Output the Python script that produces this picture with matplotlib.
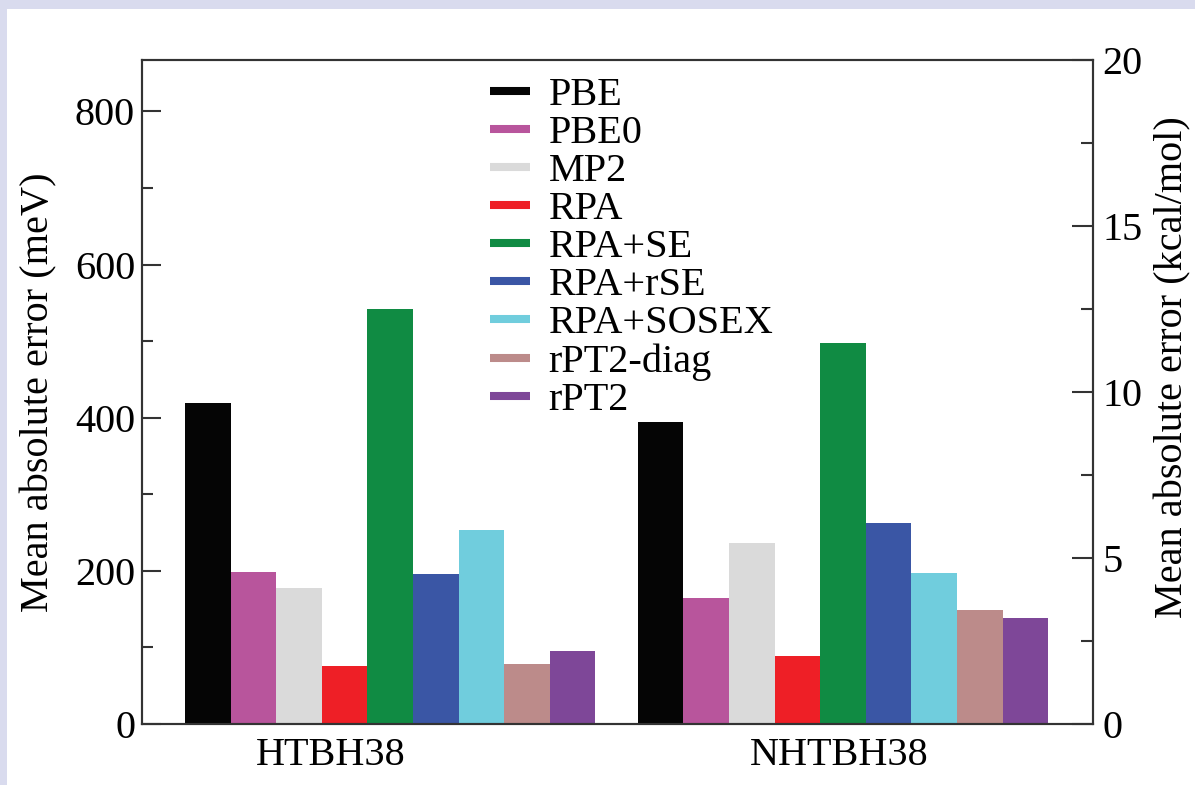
"""Mean absolute errors of barrier heights (HTBH38 / NHTBH38) for several methods."""
import matplotlib
matplotlib.use("Agg")
import matplotlib.pyplot as plt
from matplotlib.lines import Line2D
from matplotlib.patches import Rectangle
from matplotlib.ticker import MultipleLocator
import numpy as np

plt.rcParams["font.family"] = ["Liberation Serif", "DejaVu Serif"]
plt.rcParams["font.size"] = 29

MEV_PER_KCAL = 43.364

methods = ["PBE", "PBE0", "MP2", "RPA", "RPA+SE", "RPA+rSE",
           "RPA+SOSEX", "rPT2-diag", "rPT2"]
colors = ["#050505", "#b8559c", "#dadada", "#ee1f26", "#108b43",
          "#3a56a5", "#70cddd", "#bc8b8a", "#7e4798"]
sets = ["HTBH38", "NHTBH38"]

# mean absolute errors in meV, one list per test set
htbh38 = [419, 199, 178, 76, 542, 196, 254, 78, 95]
nhtbh38 = [395, 165, 236, 89, 498, 262, 197, 149, 139]

group_start = [0.0, 9.93]
set_label_x = [2.7, 13.85]

fig = plt.figure(figsize=(11.95, 7.85), dpi=100, facecolor="#d9dbee")
# white page inside the lavender frame, kept underneath the axes
fig.patches.append(Rectangle((7 / 1195, 0), 1, 1 - 9 / 785,
                             transform=fig.transFigure, facecolor="white",
                             edgecolor="none", zorder=-10))
ax = fig.add_axes([0.1188, 0.0777, 0.7958, 0.8459])
ax.set_facecolor("white")

idx = np.arange(len(methods))
for start, vals in zip(group_start, [htbh38, nhtbh38]):
    ax.bar(start + idx, vals, width=1.0, color=colors, linewidth=0)

ax.set_xlim(-1.443, 19.41)
ax.set_ylim(0, 20 * MEV_PER_KCAL)
ax.set_xticks(set_label_x, sets)
ax.tick_params(axis="x", length=0, pad=9.5)

ax.yaxis.set_major_locator(MultipleLocator(200))
ax.yaxis.set_minor_locator(MultipleLocator(100))
ax.tick_params(axis="y", which="both", direction="in", width=1.5,
               color="#333333", pad=5)
ax.tick_params(axis="y", which="major", length=14)
ax.tick_params(axis="y", which="minor", length=8)
ax.set_ylabel("Mean absolute error (meV)")
ax.yaxis.set_label_coords(-0.089, 0.5)

ax2 = ax.twinx()
ax2.set_ylim(0, 20)
ax2.yaxis.set_major_locator(MultipleLocator(5))
ax2.yaxis.set_minor_locator(MultipleLocator(2.5))
ax2.tick_params(axis="y", which="both", direction="in", width=1.5,
                color="#333333", pad=7)
ax2.tick_params(axis="y", which="major", length=15)
ax2.tick_params(axis="y", which="minor", length=8.5)
ax2.set_ylabel("Mean absolute error (kcal/mol)")
ax2.yaxis.set_label_coords(1.065, 0.538)

for a in (ax, ax2):
    for sp in a.spines.values():
        sp.set_linewidth(1.5)
        sp.set_color("#333333")

handles = [Line2D([], [], color=c, linewidth=5.8, solid_capstyle="butt")
           for c in colors]
ax.legend(handles, methods, loc="upper left", bbox_to_anchor=(0.366, 0.974),
          frameon=False, borderpad=0, borderaxespad=0, handlelength=1.0,
          handletextpad=0.45, labelspacing=0.02)

fig.savefig("out.png", dpi=100, facecolor=fig.get_facecolor())
